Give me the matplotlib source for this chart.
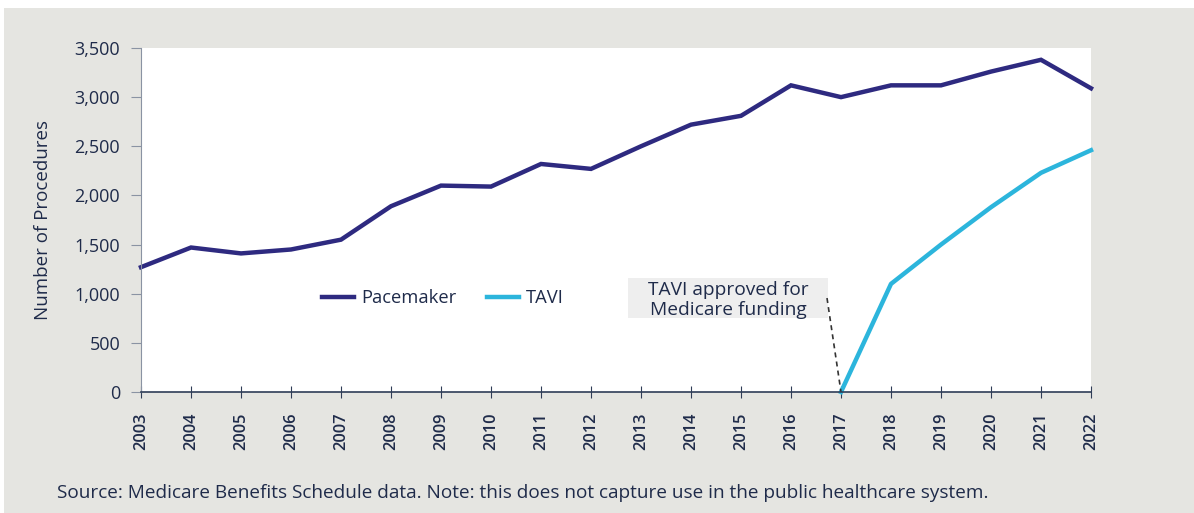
import matplotlib.pyplot as plt
from matplotlib.patches import Rectangle

years = list(range(2003, 2023))
pacemaker = [1270, 1470, 1410, 1450, 1550, 1890, 2100, 2090, 2320, 2270,
             2500, 2720, 2810, 3120, 3000, 3120, 3120, 3260, 3380, 3090]
tavi_years = [2017, 2018, 2019, 2020, 2021, 2022]
tavi = [0, 1100, 1500, 1880, 2230, 2460]
y_ticks = [0, 500, 1000, 1500, 2000, 2500, 3000, 3500]

NAVY = "#2e2a80"
CYAN = "#2cb5dc"
TEXT = "#1f2b4a"
BG = "#e5e5e1"

plt.rcParams["font.family"] = ["Open Sans", "DejaVu Sans"]

W, H = 1194, 513
fig = plt.figure(figsize=(W / 100, H / 100), dpi=100)
fig.patch.set_facecolor("white")
fig.patches.append(Rectangle((4 / W, 0), 1 - 4 / W, 1 - 8 / H,
                             transform=fig.transFigure, facecolor=BG,
                             edgecolor="none", zorder=-10))

ax = fig.add_axes([141 / W, 1 - 392 / H, (1091 - 141) / W, (392 - 48) / H])
ax.set_facecolor("white")

ax.plot(years, pacemaker, color=NAVY, lw=3.2, label="Pacemaker",
        solid_joinstyle="miter", clip_on=False)
ax.plot(tavi_years, tavi, color=CYAN, lw=3.2, label="TAVI", clip_on=False)

ax.set_xlim(years[0], years[-1])
ax.set_ylim(0, 3500)
ax.set_xticks(years)
ax.set_xticklabels([str(y) for y in years], rotation=90, fontsize=11.8,
                   color=TEXT, fontweight="semibold")
ax.set_yticks(y_ticks)
ax.set_yticklabels([f"{v:,}" for v in y_ticks], fontsize=13, color=TEXT)

for side in ("top", "right"):
    ax.spines[side].set_visible(False)
ax.spines["left"].set_color("#8a93a3")
ax.spines["bottom"].set_color("#2f3d57")
ax.spines["bottom"].set_linewidth(1.2)
ax.tick_params(axis="y", length=7, color="#8a93a3", pad=8)
ax.tick_params(axis="x", direction="inout", length=9, color="#2f3d57", pad=10)

ax.set_ylabel("Number of Procedures", fontsize=13.5, color=TEXT, labelpad=16)

ax.legend(loc="center", bbox_to_anchor=(0.318, 0.273), ncol=2, frameon=False,
          fontsize=13.2, labelcolor=TEXT, handlelength=1.7,
          handletextpad=0.4, columnspacing=1.7)

# annotation box for the funding note
ax.add_patch(Rectangle((2012.74, 753), 4.0, 407, facecolor="#eeeeee",
                       edgecolor="none", zorder=1))
ax.text(2014.74, 940, "TAVI approved for\nMedicare funding", fontsize=13.8,
        color=TEXT, ha="center", va="center", linespacing=1.15, zorder=2)
ax.plot([2016.72, 2017], [956, 0], color="#333333", lw=1.2, ls=(0, (3, 2.5)))

fig.text(57 / W, 1 - 493 / H,
         "Source: Medicare Benefits Schedule data. Note: this does not capture "
         "use in the public healthcare system.",
         fontsize=13.7, color=TEXT, va="center", ha="left")

fig.savefig("out.png", dpi=100)
